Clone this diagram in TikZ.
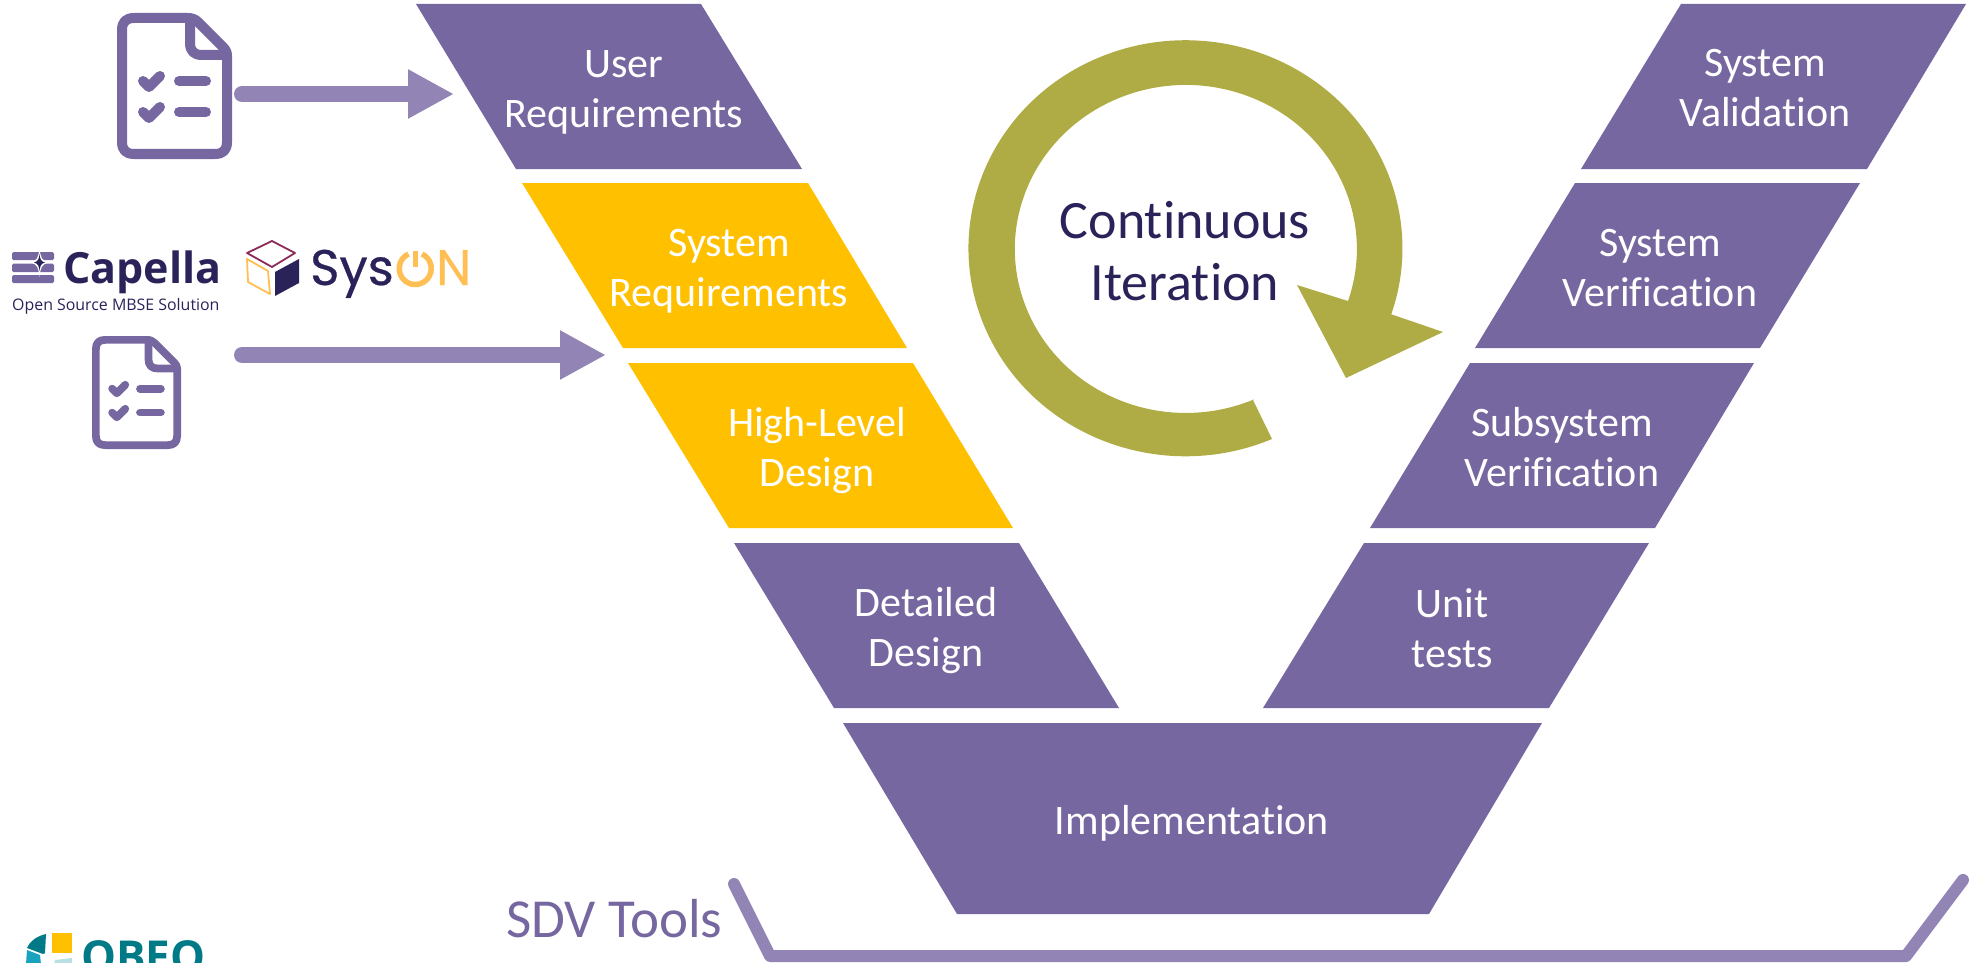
\documentclass[tikz,border=0pt]{standalone}
\usepackage{fontspec}
\usetikzlibrary{arrows.meta}
\setmainfont[Ligatures=NoCommon]{Carlito}
\newfontfamily\opensans{Open Sans}
\newfontfamily\popfont[FakeBold=0.5]{Poppins}
\definecolor{vpurple}{HTML}{7667A0}
\definecolor{arrowpurple}{HTML}{9285B5}
\definecolor{vyellow}{HTML}{FFC000}
\definecolor{volive}{HTML}{B0AC45}
\definecolor{navy}{HTML}{2A2359}
\definecolor{synyellow}{HTML}{FFBF55}
\definecolor{maroon}{HTML}{8C2A5A}
\definecolor{obeoteal}{HTML}{007A87}
\definecolor{obeoblue}{HTML}{1AA3BE}
\definecolor{obeolight}{HTML}{B8E0E4}
\tikzset{
  vlabel/.style={text=white,align=center,inner sep=0pt,font=\fontsize{42}{50}\selectfont},
  purpleband/.style={fill=vpurple},
  yellowband/.style={fill=vyellow},
  feedarrow/.style={draw=arrowpurple,line width=16pt,line cap=round,-{Triangle[sharp,length=46pt,width=46pt]}},
  toolbracket/.style={draw=arrowpurple,line width=12pt,line cap=round,line join=round},
  docline/.style={draw=vpurple,line cap=round,line join=round}
}
\newcommand{\DocIcon}[3]{%
  \begin{scope}[shift={(#1,#2)},scale=#3]
    \pgfmathsetmacro{\lw}{10*#3}
    \draw[docline,line width=\lw pt] (17,5) -- (70,5) .. controls (75,5) and (78,6) .. (81,9) -- (106,34) .. controls (109,37) and (110,39) .. (110,43) -- (110,129) .. controls (110,137) and (106,141) .. (98,141) -- (17,141) .. controls (9,141) and (5,137) .. (5,129) -- (5,17) .. controls (5,9) and (9,5) .. (17,5) -- cycle;
    \draw[docline,line width=\lw pt] (73,5) -- (73,30) .. controls (73,38) and (77,42) .. (85,42) -- (110,42);
    \draw[docline,line width=\lw pt] (26,68) -- (32,74) -- (43,63);
    \draw[docline,line width=\lw pt] (26,99) -- (32,105) -- (43,94);
    \draw[docline,line width=\lw pt] (62,68) -- (89,68);
    \draw[docline,line width=\lw pt] (62,99) -- (89,99);
  \end{scope}}
\begin{document}
\begin{tikzpicture}[x=1pt,y=-1pt]
\useasboundingbox (0,0) rectangle (1970,963);
% left leg of the V
\fill[purpleband] (416,4) -- (701,4) -- (802,169) -- (516,169) -- cycle;
\fill[yellowband] (522,183) -- (808,183) -- (907,348) -- (623,348) -- cycle;
\fill[yellowband] (628,363) -- (913,363) -- (1013,528) -- (729,528) -- cycle;
\fill[purpleband] (734,543) -- (1019,543) -- (1119,708) -- (834,708) -- cycle;
% bottom
\fill[purpleband] (843,723) -- (1542,723) -- (1429,914) -- (957,914) -- cycle;
% right leg
\fill[purpleband] (1681,4) -- (1966,4) -- (1867,169) -- (1581,169) -- cycle;
\fill[purpleband] (1575,183) -- (1860,183) -- (1760,348) -- (1475,348) -- cycle;
\fill[purpleband] (1470,363) -- (1754,363) -- (1655,528) -- (1370,528) -- cycle;
\fill[purpleband] (1364,543) -- (1649,543) -- (1549,708) -- (1263,708) -- cycle;
\node[vlabel] (ur) at (624,92) {User\\Requirements};
\node[vlabel] (sr) at (729,271.5) {System\\Requirements};
\node[vlabel] (hl) at (817,451) {High-Level\\Design};
\node[vlabel] (dd) at (926,631) {Detailed\\Design};
\node[vlabel] (im) at (1192,823) {Implementation};
\node[vlabel] (ut) at (1452,628) {Unit\\tests};
\node[vlabel] (sv) at (1562,447) {Subsystem\\Verification};
\node[vlabel] (sy) at (1660,268) {System\\Verification};
\node[vlabel] (va) at (1765,88) {System\\Validation};
% circular arrow
\fill[volive] (1253,400) -- (1272,439)
  arc[start angle=66.5,end angle=378.5,x radius=217,y radius=208]
  -- (1443,332) -- (1346,378) -- (1297,285) -- (1348,301)
  arc[start angle=378.5,end angle=66.5,x radius=171,y radius=164] -- cycle;
\node[text=navy,align=center,inner sep=0pt,font=\fontsize{54}{62}\selectfont] (ci) at (1185,251) {Continuous\\Iteration};
% documents and arrows
\DocIcon{117}{13}{1}
\DocIcon{92}{336}{0.774}
\coordinate (a1s) at (242,94);
\coordinate (a1e) at (454,94);
\coordinate (a2s) at (242,355);
\coordinate (a2e) at (606,355);
\draw[feedarrow] (a1s) -- (a1e);
\draw[feedarrow] (a2s) -- (a2e);
% Capella logo
\fill[vpurple,rounded corners=1.5pt] (12,252) rectangle (54,260);
\fill[vpurple,rounded corners=1.5pt] (12,263.5) rectangle (54,272);
\fill[vpurple,rounded corners=1.5pt] (12,275) rectangle (54,283);
\fill[white] (39.5,248) .. controls (40.5,258) and (42,261) .. (49,262.5) .. controls (42,264) and (40.5,267) .. (39.5,277) .. controls (38.5,267) and (37,264) .. (30,262.5) .. controls (37,261) and (38.5,258) .. (39.5,248) -- cycle;
\fill[navy] (39.5,254) .. controls (40,259) and (41,261.5) .. (45,262.5) .. controls (41,263.5) and (40,266) .. (39.5,271) .. controls (39,266) and (38,263.5) .. (34,262.5) .. controls (38,261.5) and (39,259) .. (39.5,254) -- cycle;
\node[anchor=base west,inner sep=0pt,text=navy,font=\opensans\bfseries\fontsize{43}{43}\selectfont] (cap) at (63,283) {Capella};
\node[anchor=base west,inner sep=0pt,text=navy,font=\opensans\fontsize{15.9}{18}\selectfont] (capsub) at (12,310) {Open Source MBSE Solution};
% SysON logo
\draw[maroon,line width=1.8pt,line join=round] (247,253) -- (272,241) -- (295,253) -- (272,267) -- cycle;
\draw[synyellow,line width=1.8pt,line join=round] (247,259) -- (268,271) -- (270,294) -- (248,282) -- cycle;
\fill[navy] (275,272) -- (299,259) -- (299,283) -- (275,296) -- cycle;
\node[anchor=base west,inner sep=0pt,text=navy,font=\popfont\fontsize{50}{50}\selectfont] (sys) at (310,285) {Sys};
\draw[synyellow,line width=5.5pt] (422,254) arc[start angle=-65,end angle=245,radius=16];
\draw[synyellow,line width=4.5pt] (415.5,251) -- (415.5,267);
\node[anchor=base west,inner sep=0pt,text=synyellow,font=\popfont\fontsize{50}{50}\selectfont] (non) at (436,285) {N};
% OBEO logo
\fill[obeoteal] (46,934) .. controls (37,936) and (30,941) .. (27,948) -- (43,954) -- (45,953) -- cycle;
\fill[obeoblue] (27,950) -- (40,955) -- (41,964) -- (26,964) -- cycle;
\fill[vyellow] (52,933) rectangle (72,953);
\fill[obeolight] (55,960) -- (72,958) -- (72,964) -- (54,964) -- cycle;
\node[anchor=base west,inner sep=0pt,text=obeoteal,font=\opensans\bfseries\fontsize{44}{44}\selectfont] (obeo) at (81,972) {OBEO};
% SDV tools
\node[anchor=base west,inner sep=0pt,text=vpurple,font=\fontsize{55}{55}\selectfont] (sdv) at (506,937) {SDV Tools};
\coordinate (b1) at (734,884);
\coordinate (b2) at (770,956);
\coordinate (b3) at (1906,956);
\coordinate (b4) at (1963,880);
\draw[toolbracket] (b1) -- (b2) -- (b3) -- (b4);
\end{tikzpicture}
\end{document}
